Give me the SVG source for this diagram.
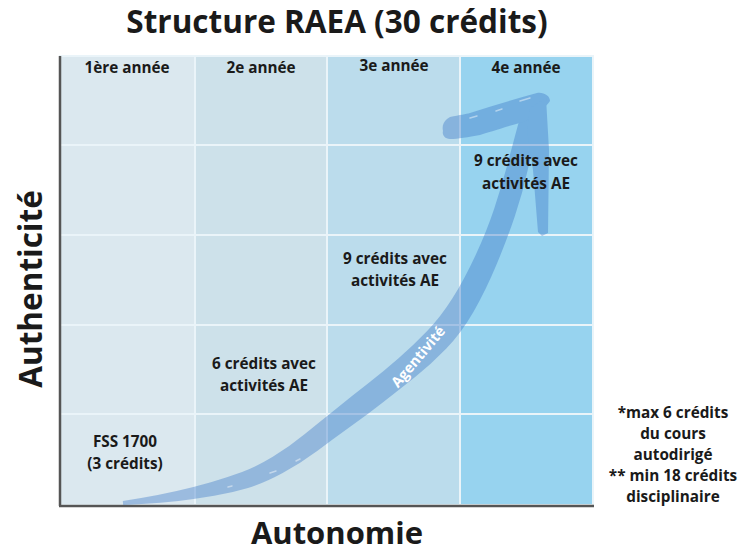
<svg xmlns="http://www.w3.org/2000/svg" width="753" height="552" viewBox="0 0 753 552">
  <style>
    .t { font-family: "Open Sans", "Liberation Sans", sans-serif; font-weight: 700; fill: #1a1a1a; }
    .cell { font-size: 15.3px; text-anchor: middle; }
    .grid { stroke: #eaf4f9; stroke-width: 2; fill: none; }
    .axis { stroke: #555; stroke-width: 2.5; fill: none; }
  </style>
  <rect width="753" height="552" fill="#ffffff"/>

  <!-- Title -->
  <text class="t" x="337" y="33" font-size="31.5" text-anchor="middle">Structure RAEA (30 crédits)</text>

  <!-- Year columns -->
  <g id="columns">
    <rect x="60" y="56" width="135" height="449" fill="#dbe8ef"/>
    <rect x="195" y="56" width="132" height="449" fill="#cde1ea"/>
    <rect x="327" y="56" width="133" height="449" fill="#bbdcec"/>
    <rect x="460" y="56" width="133" height="449" fill="#97d3ef"/>
  </g>

  <!-- Grid lines -->
  <g id="grid" class="grid">
    <rect x="60" y="56" width="533" height="449"/>
    <line x1="195" y1="56" x2="195" y2="505"/>
    <line x1="327" y1="56" x2="327" y2="505"/>
    <line x1="460" y1="56" x2="460" y2="505"/>
    <line x1="60" y1="145" x2="593" y2="145"/>
    <line x1="60" y1="235" x2="593" y2="235"/>
    <line x1="60" y1="325" x2="593" y2="325"/>
    <line x1="60" y1="414" x2="593" y2="414"/>
  </g>

  <!-- Axes -->
  <g id="axes" class="axis">
    <line x1="60" y1="56" x2="60" y2="506"/>
    <line x1="59" y1="506" x2="594" y2="506"/>
  </g>

  <!-- Agentivity arrow: brush-stroke shaft plus two-armed head -->
  <g id="connectors">
    <g id="arrow-agentivite" fill="rgb(60,120,200)" opacity="0.4">
      <path d="M122.8,501 L141.1,498 Q159.4,495 176.6,491.05 Q193.8,487.1 210.85,482.2 Q227.9,477.3 242.05,472.05
               Q256.2,466.8 272.8,456.75 Q289.4,446.7 304.85,434 Q320.3,421.3 336.5,408.4 Q352.7,395.5 368.6,383.1
               Q384.5,370.7 398.85,358.1 Q413.2,345.5 426.9,331.3 Q440.6,317.1 452.45,298.3 Q464.3,279.5 475.55,255.25
               Q486.8,231 494.1,209 Q501.4,187 507.35,164.75 Q513.3,142.5 517.35,127.35 Q521.4,112.2 525.7,104.1
               L530,96 L544,100 L542.3,108.9 Q540.6,117.8 536.65,132.65 Q532.7,147.5 527.65,170.25 Q522.6,193 514.9,216
               Q507.2,239 496.45,264.75 Q485.7,290.5 473.55,311.7 Q461.4,332.9 446.1,348.7 Q430.8,364.5 415.15,376.9
               Q399.5,389.3 383.4,401.9 Q367.3,414.5 350.5,426.6 Q333.7,438.7 317.15,451 Q300.6,463.3 282.2,473.25
               Q263.8,483.2 247.95,487.95 Q232.1,492.7 214.15,495.8 Q196.2,498.9 178.4,500.95 Q160.6,503 141.9,504
               L123.2,505 Z"/>
      <path d="M537,93 C544,92 550,96 550,101 C545,108 535,116 523,122 C505,127 490,132 480,135 C468,137 458,139 450,139
               C444,139 442,134 443,131 C442,127 443,122 447,119 L450,117 C460,115 466,114 470,113 C492,106 515,99 537,93 Z"/>
      <path d="M530,108 L546,98 L549,150 L548,233 L542,236 L538,232 L533,170 L527,130 Z"/>
    </g>
    <g stroke="#ffffff" stroke-width="1.5" stroke-linecap="round" opacity="0.45">
      <line x1="470" y1="118" x2="477" y2="116"/>
      <line x1="496" y1="111" x2="502" y2="109"/>
      <line x1="520" y1="101" x2="530" y2="98"/>
      <line x1="270" y1="473" x2="276" y2="471"/>
      <line x1="228" y1="487" x2="232" y2="486"/>
      <line x1="296" y1="461" x2="300" y2="459"/>
    </g>
    <text class="t" x="0" y="0" font-size="14.5" text-anchor="middle" style="fill:#ffffff" transform="translate(422,360) rotate(-50)">Agentivité</text>
  </g>

  <!-- Year headers -->
  <g id="year-1"><text class="t cell" x="127" y="73">1ère année</text></g>
  <g id="year-2"><text class="t cell" x="261" y="73">2e année</text></g>
  <g id="year-3"><text class="t cell" x="394" y="71">3e année</text></g>
  <g id="year-4"><text class="t cell" x="526" y="73">4e année</text></g>

  <!-- Cell contents -->
  <g id="cell-fss">
    <text class="t cell" x="125" y="447">FSS 1700</text>
    <text class="t cell" x="125" y="469">(3 crédits)</text>
  </g>
  <g id="cell-year2">
    <text class="t cell" x="264" y="369">6 crédits avec</text>
    <text class="t cell" x="264" y="391">activités AE</text>
  </g>
  <g id="cell-year3">
    <text class="t cell" x="395" y="264">9 crédits avec</text>
    <text class="t cell" x="395" y="286">activités AE</text>
  </g>
  <g id="cell-year4">
    <text class="t cell" x="526" y="166">9 crédits avec</text>
    <text class="t cell" x="526" y="189">activités AE</text>
  </g>

  <!-- Notes -->
  <g id="notes">
    <text class="t cell" x="673" y="418">*max 6 crédits</text>
    <text class="t cell" x="673" y="439">du cours</text>
    <text class="t cell" x="673" y="460">autodirigé</text>
    <text class="t cell" x="673" y="481">** min 18 crédits</text>
    <text class="t cell" x="673" y="502">disciplinaire</text>
  </g>

  <!-- Axis labels -->
  <text class="t" x="337" y="544" font-size="31" text-anchor="middle">Autonomie</text>
  <text class="t" x="0" y="0" font-size="31.5" text-anchor="middle" transform="translate(42,289) rotate(-90)">Authenticité</text>
</svg>
